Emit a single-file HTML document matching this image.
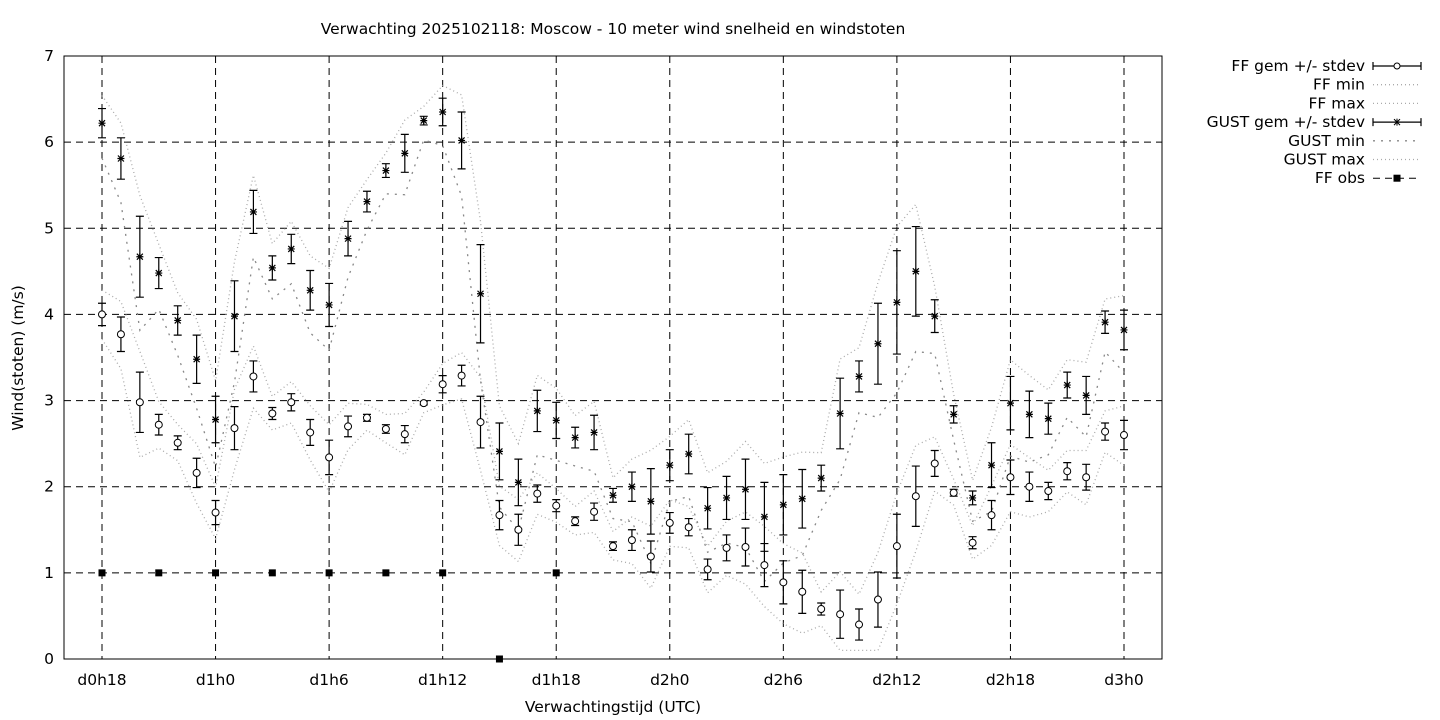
<!DOCTYPE html>
<html><head><meta charset="utf-8"><style>
html,body{margin:0;padding:0;background:#fff;width:1440px;height:720px;overflow:hidden}
text{font-family:"DejaVu Sans","Liberation Sans",sans-serif;font-size:15.5px;fill:#000}
</style></head><body>
<svg id="s" width="1440" height="720" xmlns="http://www.w3.org/2000/svg"></svg>
<script>
const s=document.getElementById('s');let h='';
const X0=102,DX=(1124-102)/54,Y0=659,DY=(659-56)/7;
const X=i=>X0+i*DX,Y=v=>Y0-v*DY;
h+='<text x="613" y="34" text-anchor="middle">Verwachting 2025102118: Moscow - 10 meter wind snelheid en windstoten</text>';
for(let v=1;v<7;v++)h+=`<line x1="64" x2="1162" y1="${Y(v)}" y2="${Y(v)}" stroke="#000" stroke-dasharray="7,5"/>`;
const labs=['d0h18','d1h0','d1h6','d1h12','d1h18','d2h0','d2h6','d2h12','d2h18','d3h0'];
labs.forEach((l,k)=>{const x=X(k*6);h+=`<line x1="${x}" x2="${x}" y1="56" y2="659" stroke="#000" stroke-dasharray="7,5"/><text x="${x}" y="685" text-anchor="middle">${l}</text>`;});
for(let v=0;v<=7;v++)h+=`<text x="54" y="${Y(v)+5}" text-anchor="end">${v}</text>`;
h+='<rect x="64" y="56" width="1098" height="603" fill="none" stroke="#000"/>';
h+='<text x="613" y="712" text-anchor="middle">Verwachtingstijd (UTC)</text>';
h+='<text transform="translate(23,358) rotate(-90)" text-anchor="middle">Wind(stoten) (m/s)</text>';
const ff=[4.0,3.77,2.98,2.72,2.51,2.16,1.70,2.68,3.28,2.85,2.98,2.63,2.34,2.70,2.80,2.67,2.61,2.97,3.19,3.29,2.75,1.67,1.50,1.92,1.78,1.60,1.71,1.31,1.38,1.19,1.58,1.53,1.04,1.29,1.30,1.09,0.89,0.78,0.58,0.52,0.40,0.69,1.31,1.89,2.27,1.93,1.35,1.67,2.11,2.00,1.95,2.18,2.11,2.64,2.60];
const ffe=[.13,.2,.35,.12,.08,.17,.14,.25,.18,.07,.1,.15,.2,.12,.04,.05,.1,.02,.1,.12,.3,.17,.18,.1,.07,.05,.1,.05,.12,.18,.12,.1,.12,.15,.22,.25,.25,.25,.07,.28,.18,.32,.37,.35,.15,.04,.07,.17,.2,.17,.1,.1,.15,.1,.17];
const gu=[6.22,5.81,4.67,4.48,3.93,3.48,2.78,3.98,5.19,4.54,4.76,4.28,4.11,4.88,5.31,5.67,5.87,6.25,6.35,6.02,4.24,2.41,2.05,2.88,2.77,2.57,2.63,1.90,2.0,1.83,2.25,2.38,1.75,1.87,1.97,1.65,1.79,1.86,2.1,2.85,3.28,3.66,4.14,4.50,3.98,2.84,1.87,2.25,2.97,2.84,2.79,3.18,3.06,3.91,3.82];
const gue=[.17,.24,.47,.18,.17,.28,.27,.41,.25,.14,.17,.23,.25,.2,.12,.08,.22,.05,.16,.33,.57,.33,.27,.24,.21,.12,.2,.08,.17,.38,.18,.23,.24,.25,.35,.4,.35,.34,.15,.41,.18,.47,.6,.52,.19,.1,.08,.26,.31,.27,.18,.15,.22,.13,.23];
function pl(arr,f,dash,col){let p=arr.map((v,i)=>`${X(i).toFixed(1)},${Y(f(v,i)).toFixed(1)}`).join(' ');h+=`<polyline points="${p}" fill="none" stroke="${col}" stroke-width="1.3" stroke-dasharray="${dash}"/>`;}
pl(ff,(v,i)=>Math.max(0.1,v-ffe[i]*1.6-0.08),'1,3','#aaa');
pl(ff,(v,i)=>v+ffe[i]*1.4+0.1,'1,3','#aaa');
pl(gu,(v,i)=>v-gue[i]*1.5-0.15,'2,6','#888');
pl(gu,(v,i)=>v+gue[i]*1.3+0.1,'1,3','#aaa');
function eb(arr,e,mk){arr.forEach((v,i)=>{const x=X(i),a=Y(v+e[i]),b=Y(v-e[i]);h+=`<path d="M${x} ${a}V${b}M${x-4} ${a}H${x+4}M${x-4} ${b}H${x+4}" stroke="#000" stroke-width="1.2"/>`;
const y=Y(v);if(mk=='o')h+=`<circle cx="${x}" cy="${y}" r="3.5" fill="#fff" stroke="#000"/>`;else h+=`<path d="M${x-3.5} ${y}H${x+3.5}M${x} ${y-3.5}V${y+3.5}M${x-3} ${y-3}L${x+3} ${y+3}M${x-3} ${y+3}L${x+3} ${y-3}" stroke="#000" stroke-width="1.2"/>`;});}
eb(ff,ffe,'o');eb(gu,gue,'*');
[[0,1],[3,1],[6,1],[9,1],[12,1],[15,1],[18,1],[24,1],[21,0]].forEach(([i,v])=>h+=`<rect x="${X(i)-3.5}" y="${Y(v)-3.5}" width="7" height="7" fill="#000"/>`);
const L=['FF gem +/- stdev','FF min','FF max','GUST gem +/- stdev','GUST min','GUST max','FF obs'];
L.forEach((t,k)=>{const y=66+k*18.7;h+=`<text x="1365" y="${y+5}" text-anchor="end">${t}</text>`;
if(k==0||k==3){h+=`<path d="M1373 ${y}H1421M1373 ${y-4}V${y+4}M1421 ${y-4}V${y+4}" stroke="#000" stroke-width="1.2"/>`;
h+=k==0?`<circle cx="1397" cy="${y}" r="3" fill="#fff" stroke="#000"/>`:`<path d="M1394 ${y-3}L1400 ${y+3}M1394 ${y+3}L1400 ${y-3}M1397 ${y-3.5}V${y+3.5}" stroke="#000"/>`;}
else if(k==6){h+=`<line x1="1373" x2="1421" y1="${y}" y2="${y}" stroke="#000" stroke-dasharray="7,5"/><rect x="1393.5" y="${y-3.5}" width="7" height="7"/>`;}
else h+=`<line x1="1373" x2="1421" y1="${y}" y2="${y}" stroke="${k==4?'#888':'#aaa'}" stroke-width="1.3" stroke-dasharray="${k==4?'2,6':'1,3'}"/>`;});
s.innerHTML=h;
</script>
</body></html>
